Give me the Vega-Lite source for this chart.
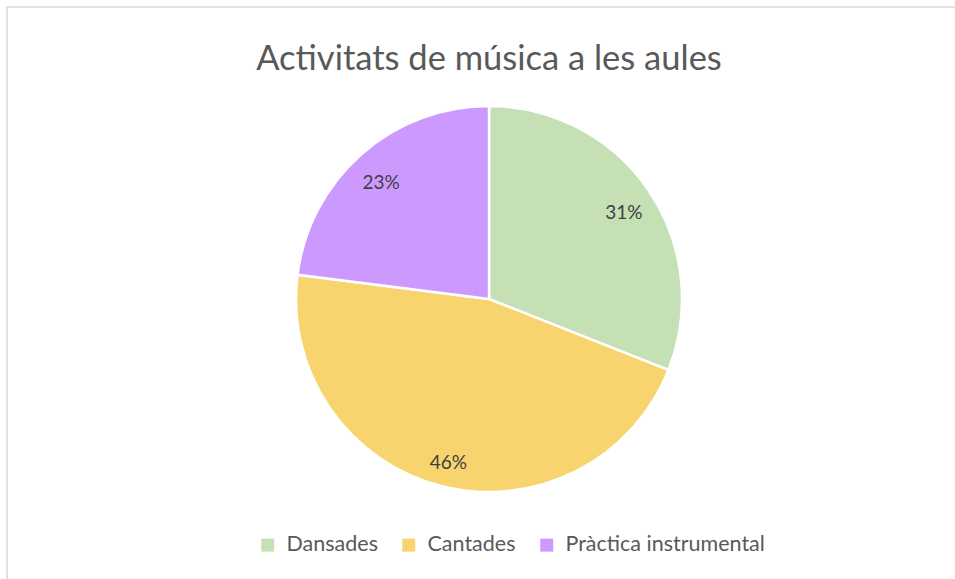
{
  "$schema": "https://vega.github.io/schema/vega-lite/v6.json",
  "width": 964,
  "height": 584,
  "autosize": {"type": "none"},
  "padding": {"left": 7, "top": 7, "right": 0, "bottom": 0},
  "background": "white",
  "view": {"stroke": "#D9D9D9", "strokeWidth": 1.5},
  "config": {
    "view": {"stroke": "#D9D9D9", "strokeWidth": 1.5},
    "font": "Lato"
  },
  "title": {
    "text": "Activitats de música a les aules",
    "orient": "top",
    "anchor": "middle",
    "frame": "group",
    "baseline": "alphabetic",
    "offset": -97,
    "fontSize": 34.5,
    "fontWeight": "normal",
    "color": "#595959",
    "font": "Lato"
  },
  "data": {
    "values": [
      {"activitat": "Dansades", "proporcio": 0.31},
      {"activitat": "Cantades", "proporcio": 0.46},
      {"activitat": "Pràctica instrumental", "proporcio": 0.23}
    ]
  },
  "transform": [
    {"window": [{"op": "row_number", "as": "idx"}]}
  ],
  "encoding": {
    "theta": {"field": "proporcio", "type": "quantitative", "stack": true},
    "order": {"field": "idx", "type": "quantitative"},
    "color": {
      "field": "activitat",
      "type": "nominal",
      "sort": null,
      "scale": {
        "domain": ["Dansades", "Cantades", "Pràctica instrumental"],
        "range": ["#C5E0B4", "#F8D46E", "#CC99FF"]
      },
      "legend": {
        "title": null,
        "orient": "none",
        "direction": "horizontal",
        "legendX": 250,
        "legendY": 527,
        "symbolType": "square",
        "symbolSize": 169,
        "symbolStrokeWidth": 0,
        "symbolOpacity": 1,
        "labelFontSize": 21.5,
        "labelLimit": 400,
        "labelColor": "#595959",
        "labelFont": "Lato",
        "labelOffset": 8,
        "columnPadding": 20
      }
    }
  },
  "layer": [
    {
      "mark": {"type": "arc", "outerRadius": 193, "stroke": "white", "strokeWidth": 2.5}
    },
    {
      "mark": {"type": "text", "radius": 163, "dy": 6, "fontSize": 19, "font": "Lato"},
      "encoding": {
        "text": {"field": "proporcio", "type": "quantitative", "format": ".0%"},
        "color": {"value": "#404040"}
      }
    }
  ]
}
